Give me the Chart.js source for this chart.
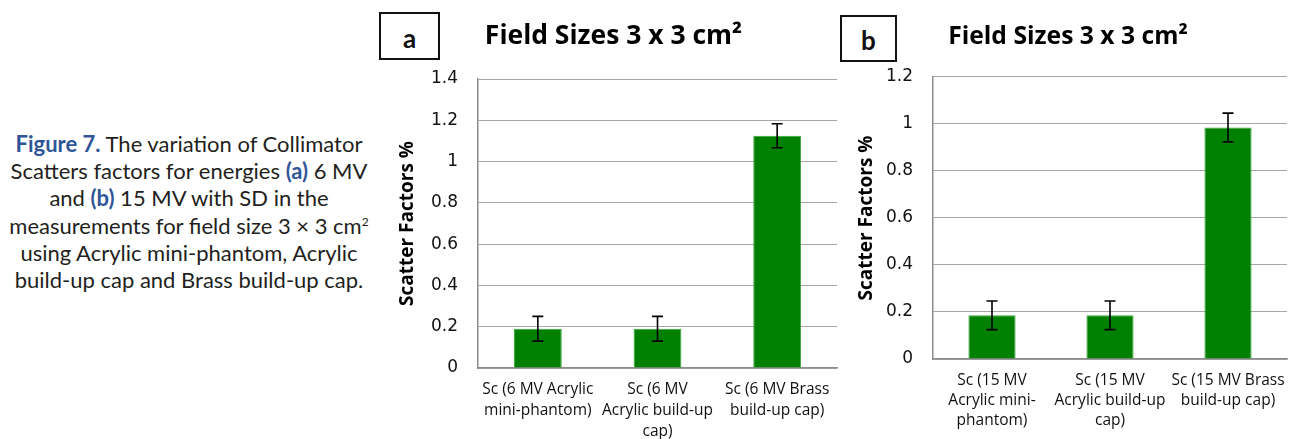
<!DOCTYPE html>
<html>
<head>
<meta charset="utf-8">
<script src="https://cdn.jsdelivr.net/npm/chart.js@4/dist/chart.umd.min.js"></script>
<style>
  body { margin: 0; background: #fff; width: 1293px; height: 439px; position: relative; overflow: hidden; }
  .caption { position: absolute; left: 0; top: 130px; width: 378px; text-align: center;
    font-family: Lato, sans-serif; font-size: 22px; line-height: 27.2px; color: #231f20; }
  .caption b { color: #2f5597; }
  .caption sup { font-size: 12px; line-height: 0; }
  .tag { position: absolute; border: 2px solid #111; box-sizing: border-box; background: #fff;
    font-family: Lato, sans-serif; font-weight: bold; font-size: 26px; color: #111;
    display: flex; align-items: center; justify-content: center; padding-top: 3px; }
  canvas { position: absolute; top: 0; }
</style>
</head>
<body>
<div class="caption"><b>Figure 7.</b> The variation of Collimator<br>Scatters factors for energies <b>(a)</b> 6 MV<br>and <b>(b)</b> 15 MV with SD in the<br>measurements for field size 3 × 3 cm<sup>2</sup><br>using Acrylic mini-phantom, Acrylic<br>build-up cap and Brass build-up cap.</div>
<div class="tag" style="left:379px;top:12px;width:61px;height:48px;">a</div>
<div class="tag" style="left:840px;top:15px;width:57px;height:47px;">b</div>
<canvas id="chartA" width="460" height="439" style="left:380px"></canvas>
<canvas id="chartB" width="453" height="439" style="left:840px"></canvas>
<script>
const titleText = 'Field Sizes 3 x 3 cm²';
const yTitle = 'Scatter Factors %';

const labelsA = [['Sc (6 MV Acrylic', 'mini-phantom)'], ['Sc (6 MV', 'Acrylic build-up', 'cap)'], ['Sc (6 MV Brass', 'build-up cap)']];
const valuesA = [0.19, 0.19, 1.125];
const errorsA = [0.06, 0.06, 0.058];
const yTicksA = [0, 0.2, 0.4, 0.6, 0.8, 1, 1.2, 1.4];

const labelsB = [['Sc (15 MV', 'Acrylic mini-', 'phantom)'], ['Sc (15 MV', 'Acrylic build-up', 'cap)'], ['Sc (15 MV Brass', 'build-up cap)']];
const valuesB = [0.186, 0.186, 0.985];
const errorsB = [0.061, 0.061, 0.061];
const yTicksB = [0, 0.2, 0.4, 0.6, 0.8, 1, 1.2];

// draws the SD whiskers on top of each bar
const errorBars = {
    id: 'errorBars',
    afterDatasetsDraw(chart) {
        const ctx = chart.ctx;
        const y = chart.scales.y;
        chart.data.datasets.forEach((ds, di) => {
            const meta = chart.getDatasetMeta(di);
            meta.data.forEach((bar, i) => {
                const v = ds.data[i], e = ds.errors[i];
                const top = y.getPixelForValue(v + e);
                const bot = y.getPixelForValue(v - e);
                ctx.save();
                ctx.strokeStyle = '#000';
                ctx.lineWidth = 1.6;
                ctx.beginPath();
                ctx.moveTo(bar.x, top); ctx.lineTo(bar.x, bot);
                ctx.moveTo(bar.x - 5.5, top); ctx.lineTo(bar.x + 5.5, top);
                ctx.moveTo(bar.x - 5.5, bot); ctx.lineTo(bar.x + 5.5, bot);
                ctx.stroke();
                ctx.restore();
            });
        });
    }
};

function makeChart(id, labels, values, errors, ticks, lay) {
    return new Chart(document.getElementById(id), {
        type: 'bar',
        data: {
            labels: labels,
            datasets: [{
                data: values,
                errors: errors,
                backgroundColor: '#008000',
                borderColor: '#3aa63a',
                borderWidth: 1,
                categoryPercentage: 1,
                barPercentage: 0.4
            }]
        },
        options: {
            responsive: false,
            animation: false,
            layout: { padding: { left: lay.padLeft, right: lay.padRight, top: 0, bottom: 0 } },
            plugins: {
                legend: { display: false },
                tooltip: { enabled: false },
                title: {
                    display: true,
                    text: titleText,
                    color: '#000',
                    font: { family: 'Open Sans', size: lay.titleSize, weight: 'bold', lineHeight: 1.25 },
                    padding: { top: lay.titleTop, bottom: lay.titleBottom }
                }
            },
            scales: {
                x: {
                    grid: { display: false },
                    border: { color: '#8c8c8c', width: 1.5 },
                    ticks: {
                        color: '#111',
                        maxRotation: 0,
                        autoSkip: false,
                        padding: lay.xPad,
                        font: { family: 'Open Sans', size: 15.5, lineHeight: lay.xLine + 'px' }
                    },
                    afterFit(axis) { axis.height = lay.xHeight; }
                },
                y: {
                    min: 0,
                    max: ticks[ticks.length - 1],
                    afterBuildTicks(axis) { axis.ticks = ticks.map(v => ({ value: v })); },
                    grid: { color: '#a6a6a6', lineWidth: 1, drawTicks: false },
                    border: { color: '#8c8c8c', width: 1.5 },
                    ticks: {
                        color: '#111',
                        padding: 20,
                        font: { family: 'DejaVu Sans', size: 17 },
                        callback: v => String(v)
                    },
                    title: {
                        display: true,
                        text: yTitle,
                        color: '#000',
                        padding: { top: 6.5, bottom: 0 },
                        font: { family: 'Open Sans', size: 19, weight: 'bold', lineHeight: 1.2 }
                    },
                    afterFit(axis) { axis.width = lay.yWidth; }
                }
            }
        },
        plugins: [errorBars]
    });
}

makeChart('chartA', labelsA, valuesA, errorsA, yTicksA,
    { padLeft: 10, padRight: 3, yWidth: 88, xHeight: 71, titleSize: 26.5, titleTop: 19.4, titleBottom: 26.5, xPad: 3, xLine: 21 });
makeChart('chartB', labelsB, valuesB, errorsB, yTicksB,
    { padLeft: 9, padRight: 6, yWidth: 84, xHeight: 80, titleSize: 24.7, titleTop: 21.6, titleBottom: 24.5, xPad: 4, xLine: 20 });
</script>
</body>
</html>
